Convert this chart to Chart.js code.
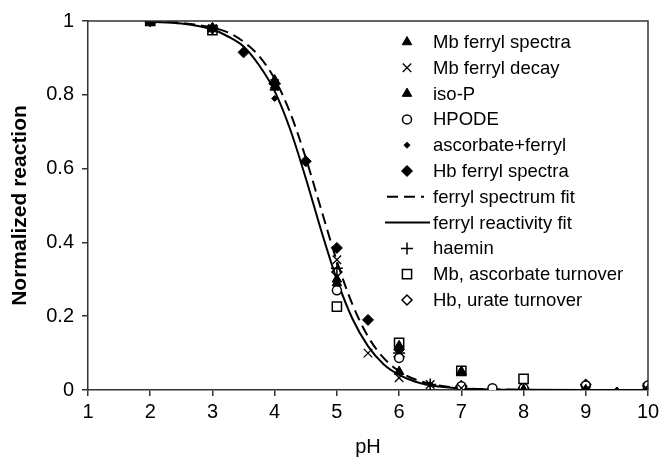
<!DOCTYPE html>
<html>
<head>
<meta charset="utf-8">
<script src="https://cdn.jsdelivr.net/npm/chart.js@4.4.0/dist/chart.umd.min.js"></script>
<style>
html,body{margin:0;padding:0;background:#fff;}
#wrap{width:664px;height:468px;}
</style>
</head>
<body>
<div id="wrap"><canvas id="c" width="664" height="468"></canvas></div>
<script>
// ---- data ----
const xTicks = [1,2,3,4,5,6,7,8,9,10];
const yTicks = [0,0.2,0.4,0.6,0.8,1];

const mbSpectraPH = [2,3,4,5,6,7,8,9,10];
const mbSpectraY  = [1.0,0.98,0.84,0.29,0.05,0.05,0.0,0.0,0.0];

const mbDecayPH = [2,3,4,5,5.5,6,6.5,7,9,10];
const mbDecayY  = [1.0,0.98,0.83,0.353,0.10,0.033,0.015,0.005,0.0,0.0];

const isoPPH = [2,3,4,5,6,7,8,9,10];
const isoPY  = [1.0,0.98,0.82,0.30,0.12,0.05,0.0,0.0,0.0];

const hpodePH = [5,6,7,7.5,8,9,10];
const hpodeY  = [0.27,0.087,0.01,0.005,0.005,0.012,0.012];

const ascFerrylPH = [4,5,6,6.5,9.5];
const ascFerrylY  = [0.79,0.28,0.10,0.015,0.0];

const hbSpectraPH = [2,3,3.5,4,4.5,5,5.5,6,7];
const hbSpectraY  = [1.0,0.98,0.915,0.83,0.62,0.385,0.19,0.11,0.005];

const fitPH          = [2,2.5,3,3.25,3.5,3.75,4,4.25,4.5,4.75,5,5.25,5.5,5.75,6,6.25,6.5,7,7.5,8,9,10];
const spectrumFitY   = [0.998,0.995,0.982,0.969,0.944,0.905,0.843,0.751,0.629,0.488,0.349,0.232,0.145,0.087,0.051,0.029,0.017,0.005,0.002,0.0005,0.0,0.0];
const reactivityFitY = [0.998,0.993,0.977,0.958,0.931,0.880,0.810,0.706,0.574,0.431,0.299,0.193,0.119,0.070,0.041,0.023,0.013,0.004,0.001,0.0004,0.0,0.0];

const haeminPH = [2,3,4,5,6,6.5,7,9,10];
const haeminY  = [1.0,0.98,0.83,0.33,0.10,0.015,0.01,0.0,0.0];

const mbAscTurnPH = [2,3,5,6,7,8,10];
const mbAscTurnY  = [1.0,0.975,0.226,0.128,0.052,0.03,0.005];

const hbUrateTurnPH = [5,6,7,8,9,10];
const hbUrateTurnY  = [0.32,0.09,0.01,0.005,0.015,0.012];

const labels = ["Mb ferryl spectra","Mb ferryl decay","iso-P","HPODE","ascorbate+ferryl","Hb ferryl spectra",
  "ferryl spectrum fit","ferryl reactivity fit","haemin","Mb, ascorbate turnover","Hb, urate turnover"];

function pts(xs, ys){ return xs.map((x,i)=>({x:x,y:ys[i]})); }

const K = '#000';
const datasets = [
  {label:labels[0], data:pts(mbSpectraPH,mbSpectraY), pointStyle:'triangle', pointRadius:5.5, backgroundColor:K, borderColor:K, borderWidth:1},
  {label:labels[1], data:pts(mbDecayPH,mbDecayY), pointStyle:'crossRot', pointRadius:6, backgroundColor:K, borderColor:K, borderWidth:1.3},
  {label:labels[2], data:pts(isoPPH,isoPY), pointStyle:'triangle', pointRadius:5.5, backgroundColor:K, borderColor:K, borderWidth:1},
  {label:labels[3], data:pts(hpodePH,hpodeY), pointStyle:'circle', pointRadius:4.5, backgroundColor:'#fff', borderColor:K, borderWidth:1.5},
  {label:labels[4], data:pts(ascFerrylPH,ascFerrylY), pointStyle:'rectRot', pointRadius:3, backgroundColor:K, borderColor:K, borderWidth:1},
  {label:labels[5], data:pts(hbSpectraPH,hbSpectraY), pointStyle:'rectRot', pointRadius:5.5, backgroundColor:K, borderColor:K, borderWidth:1},
  {label:labels[6], type:'line', data:pts(fitPH,spectrumFitY), showLine:true, pointRadius:0, borderColor:K, borderWidth:2, borderDash:[11,6], tension:0.4, cubicInterpolationMode:'monotone', fill:false},
  {label:labels[7], type:'line', data:pts(fitPH,reactivityFitY), showLine:true, pointRadius:0, borderColor:K, borderWidth:2, tension:0.4, cubicInterpolationMode:'monotone', fill:false},
  {label:labels[8], data:pts(haeminPH,haeminY), pointStyle:'cross', pointRadius:6, backgroundColor:K, borderColor:K, borderWidth:1.5},
  {label:labels[9], data:pts(mbAscTurnPH,mbAscTurnY), pointStyle:'rect', pointRadius:6.5, backgroundColor:'#fff', borderColor:K, borderWidth:1.5},
  {label:labels[10], data:pts(hbUrateTurnPH,hbUrateTurnY), pointStyle:'rectRot', pointRadius:5, backgroundColor:'#fff', borderColor:K, borderWidth:1.5}
];

const FONT = '"Liberation Sans", Arial, sans-serif';

// custom in-plot legend + frame
const legendPlugin = {
  id:'inLegend',
  afterDatasetsDraw(chart){
    const ctx = chart.ctx, a = chart.chartArea;
    ctx.save();
    ctx.strokeStyle = '#333'; ctx.lineWidth = 1.5;
    ctx.beginPath();
    ctx.moveTo(a.left, a.top); ctx.lineTo(a.right, a.top); ctx.lineTo(a.right, a.bottom);
    ctx.stroke();
    ctx.restore();
  },
  afterDraw(chart){
    const ctx = chart.ctx;
    const mx = 407, tx = 433, y0 = 42, dy = 25.8;
    ctx.save();
    ctx.font = '18.5px ' + FONT;
    ctx.textBaseline = 'middle';
    ctx.textAlign = 'left';
    chart.data.datasets.forEach((ds,i)=>{
      const y = y0 + i*dy;
      if (ds.type === 'line'){
        ctx.save();
        ctx.strokeStyle = K; ctx.lineWidth = 2;
        ctx.setLineDash(ds.borderDash || []);
        ctx.beginPath();
        if (ds.borderDash){ ctx.moveTo(387,y); ctx.lineTo(424,y); }
        else { ctx.moveTo(385,y); ctx.lineTo(430,y); }
        ctx.stroke();
        ctx.restore();
      } else {
        ctx.save();
        ctx.fillStyle = ds.backgroundColor; ctx.strokeStyle = ds.borderColor; ctx.lineWidth = ds.borderWidth;
        Chart.helpers.drawPoint(ctx, {pointStyle:ds.pointStyle, radius:ds.pointRadius, borderWidth:ds.borderWidth, rotation:0}, mx, y);
        ctx.restore();
      }
      ctx.fillStyle = '#000';
      ctx.fillText(ds.label, tx, y+1);
    });
    ctx.restore();
  }
};

new Chart(document.getElementById('c'), {
  type:'scatter',
  data:{datasets:datasets},
  options:{
    responsive:false,
    animation:false,
    layout:{padding:{top:21,right:16,left:0,bottom:0}},
    plugins:{legend:{display:false}, tooltip:{enabled:false}},
    scales:{
      x:{
        type:'linear', min:1, max:10,
        afterBuildTicks(s){ s.ticks = xTicks.map(v=>({value:v})); },
        afterFit(s){ s.height = 78; },
        grid:{drawOnChartArea:false, drawTicks:true, tickLength:6, color:'#333', lineWidth:1.5},
        border:{color:'#333', width:1.5},
        ticks:{font:{family:FONT,size:20}, color:'#000', padding:4, callback:v=>String(v)},
        title:{display:true, text:'pH', font:{family:FONT,size:20}, color:'#000', padding:{top:0,bottom:9}}
      },
      y:{
        type:'linear', min:0, max:1,
        afterBuildTicks(s){ s.ticks = yTicks.map(v=>({value:v})); },
        afterFit(s){ s.width = 88; },
        grid:{drawOnChartArea:false, drawTicks:true, tickLength:6, color:'#333', lineWidth:1.5},
        border:{color:'#333', width:1.5},
        ticks:{font:{family:FONT,size:20}, color:'#000', padding:8, callback:v=>String(v)},
        title:{display:true, text:'Normalized reaction', font:{family:FONT,size:21,weight:'bold'}, color:'#000', padding:{top:8,bottom:0}}
      }
    }
  },
  plugins:[legendPlugin]
});
</script>
</body>
</html>
